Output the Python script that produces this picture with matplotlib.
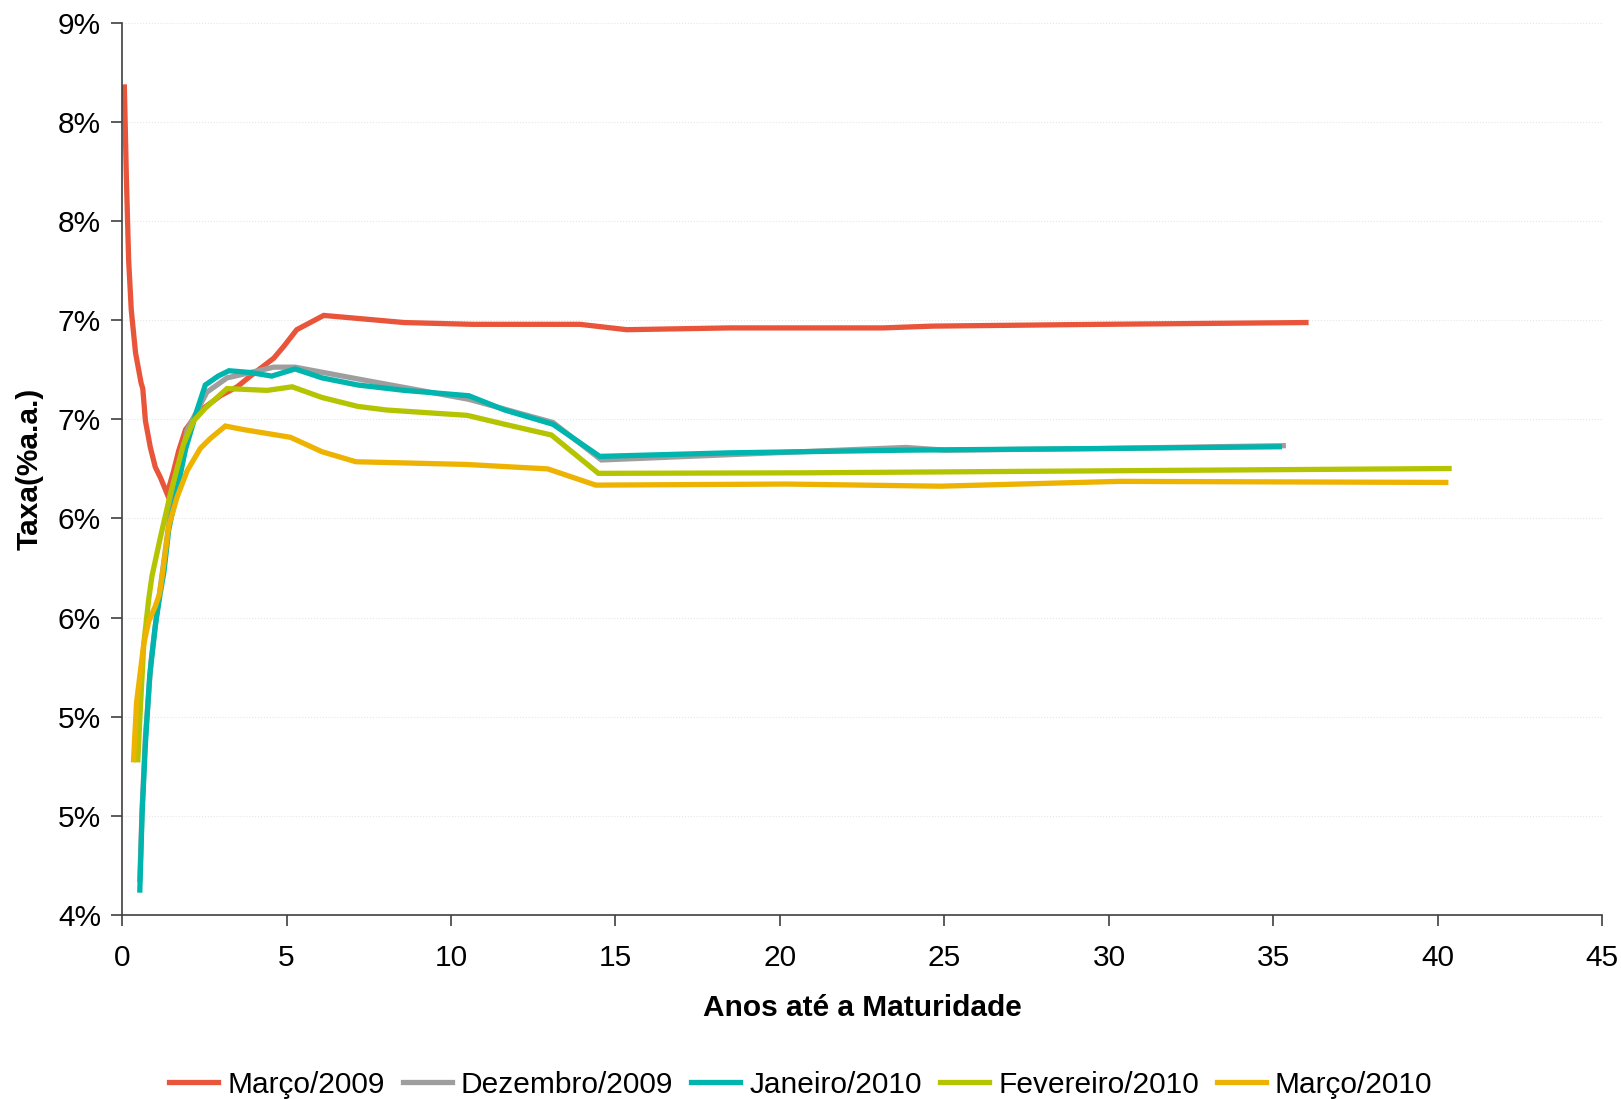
import numpy as np
import matplotlib.pyplot as plt
from matplotlib import rcParams

rcParams['font.family'] = ['Liberation Sans', 'DejaVu Sans']

# anos ate a maturidade / taxa (% a.a.)
mar09_x = [0.07, 0.13, 0.20, 0.28, 0.41, 0.58, 0.63, 0.71, 0.86, 1.01, 1.17, 1.37,
           1.57, 1.72, 1.93, 2.13, 2.48, 2.99, 3.50, 3.90, 4.61, 4.93, 5.31, 6.13,
           8.58, 10.65, 13.92, 15.34, 18.47, 23.13, 24.64, 29.74, 35.99]
mar09_y = [8.64, 8.14, 7.67, 7.39, 7.15, 6.98, 6.95, 6.77, 6.62, 6.51, 6.45, 6.36,
           6.49, 6.60, 6.72, 6.77, 6.84, 6.91, 6.96, 7.02, 7.12, 7.19, 7.28, 7.36,
           7.32, 7.31, 7.31, 7.28, 7.29, 7.29, 7.30, 7.31, 7.32]

dez09_x = [0.54, 0.61, 0.71, 0.88, 1.05, 1.27, 1.50, 1.98, 2.58, 3.19, 4.61, 5.26,
           7.28, 10.54, 13.10, 14.57, 18.5, 23.83, 25.0, 29.74, 35.3]
dez09_y = [4.20, 4.60, 5.00, 5.42, 5.68, 5.98, 6.30, 6.72, 6.93, 7.01, 7.07, 7.07,
           7.00, 6.89, 6.76, 6.55, 6.58, 6.62, 6.605, 6.614, 6.63]

jan10_x = [0.54, 0.61, 0.71, 0.84, 1.01, 1.14, 1.27, 1.42, 1.67, 1.93, 2.28, 2.53,
           2.92, 3.25, 3.90, 4.55, 5.26, 6.08, 7.17, 8.58, 10.54, 11.63, 13.10,
           14.52, 18.47, 23.83, 29.74, 35.18]
jan10_y = [4.14, 4.57, 4.96, 5.34, 5.62, 5.78, 5.92, 6.16, 6.38, 6.61, 6.83, 6.97,
           7.02, 7.05, 7.04, 7.02, 7.06, 7.01, 6.97, 6.94, 6.91, 6.83, 6.75,
           6.57, 6.59, 6.605, 6.614, 6.624]

fev10_x = [0.48, 0.56, 0.66, 0.81, 0.91, 1.17, 1.47, 1.87, 2.18, 2.53, 3.19, 4.41,
           5.17, 6.08, 7.17, 8.04, 10.49, 11.63, 13.05, 14.48, 20.8, 29.74, 40.34]
fev10_y = [4.87, 5.17, 5.52, 5.77, 5.90, 6.12, 6.36, 6.64, 6.77, 6.84, 6.95, 6.94,
           6.96, 6.90, 6.85, 6.83, 6.80, 6.75, 6.69, 6.475, 6.478, 6.489, 6.502]

mar10_x = [0.35, 0.44, 0.56, 0.66, 0.81, 1.01, 1.14, 1.22, 1.42, 1.67, 1.98, 2.38,
           2.68, 3.14, 3.70, 5.12, 6.08, 7.11, 10.44, 12.94, 14.40, 20.2, 24.87,
           30.3, 40.24]
mar10_y = [4.87, 5.19, 5.37, 5.52, 5.645, 5.73, 5.80, 5.90, 6.18, 6.34, 6.49, 6.615,
           6.67, 6.74, 6.72, 6.677, 6.596, 6.54, 6.525, 6.50, 6.409, 6.415, 6.403,
           6.43, 6.424]

series = [("Março/2009", mar09_x, mar09_y, "#E9553B"),
          ("Dezembro/2009", dez09_x, dez09_y, "#9E9E9E"),
          ("Janeiro/2010", jan10_x, jan10_y, "#00B5AD"),
          ("Fevereiro/2010", fev10_x, fev10_y, "#B5C400"),
          ("Março/2010", mar10_x, mar10_y, "#EDB300")]

yticks = np.linspace(4, 9, 10)

fig = plt.figure(figsize=(16.21, 10.99), dpi=100)
ax = fig.add_axes([0.0753, 0.1674, 0.9132, 0.8119])

for name, x, y, c in series:
    ax.plot(x, y, color=c, lw=3.8, label=name, solid_joinstyle='miter')

ax.set_xlim(0, 45)
ax.set_ylim(4, 9)
ax.set_xticks(range(0, 46, 5))
ax.set_yticks(yticks)
ax.set_yticklabels(["%.0f%%" % v for v in yticks])
ax.tick_params(labelsize=21.5, length=8, width=1.2, color='#404040', pad=7)
ax.tick_params(axis='x', pad=13)
ax.yaxis.grid(True, color='#e6e6e6', lw=0.8, ls=':')
for s in ['top', 'right']:
    ax.spines[s].set_visible(False)
for s in ['left', 'bottom']:
    ax.spines[s].set_color('#404040')
    ax.spines[s].set_linewidth(1.2)

ax.set_xlabel("Anos até a Maturidade", fontsize=21.5, fontweight='bold', labelpad=16)
ax.set_ylabel("Taxa(%a.a.)", fontsize=21.5, fontweight='bold', labelpad=10)

fig.legend(loc='lower center', bbox_to_anchor=(0.494, -0.024), ncol=5, frameon=False,
           fontsize=21.5, handlelength=1.65, handletextpad=0.3, columnspacing=0.6)

plt.savefig("out.png", dpi=100)
